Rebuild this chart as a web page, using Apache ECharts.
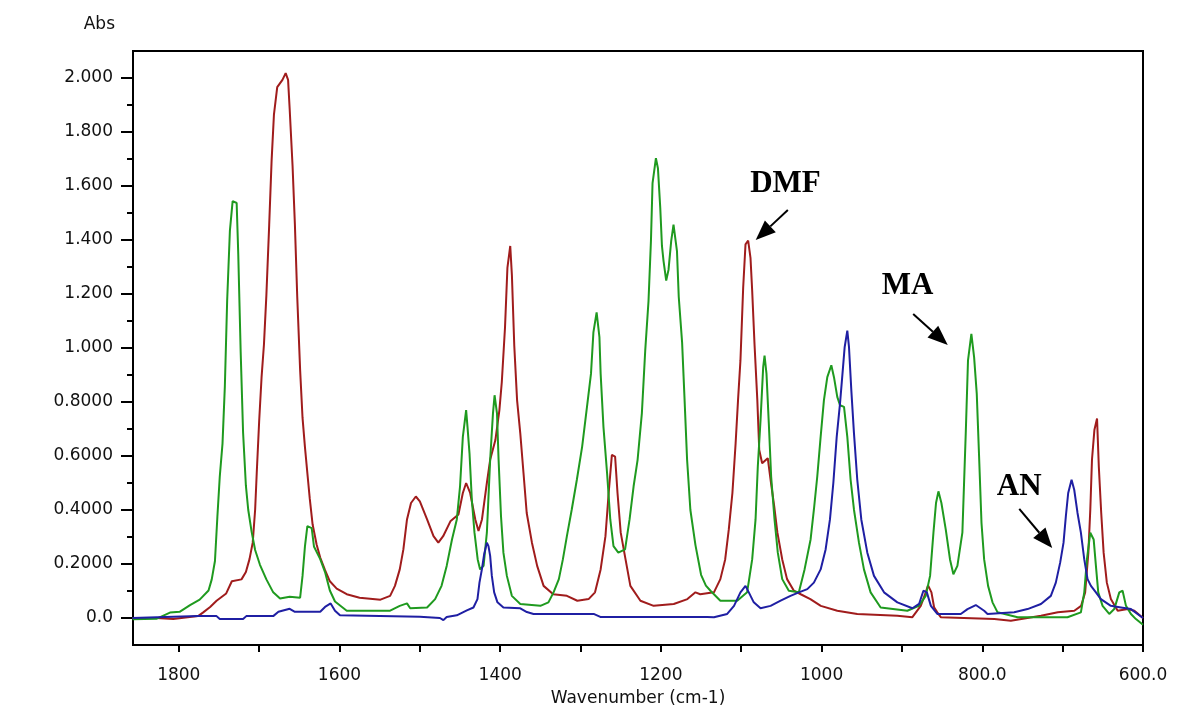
<!DOCTYPE html>
<html>
<head>
<meta charset="utf-8">
<script src="https://cdn.jsdelivr.net/npm/echarts@6/dist/echarts.min.js"></script>
<style>
  html, body { margin: 0; padding: 0; background: #ffffff; }
  #chart { width: 1191px; height: 709px; }
</style>
</head>
<body>
<div id="chart"></div>
<script>
// ---- Data ----
const seriesNames = ['DMF', 'MA', 'AN'];

const dmfWn = [1857.7,1828,1807,1776,1770,1761,1753,1741,1734,1722,1716.5,1712,1708,1705,1703,1700,1697,1694,1691,1687.5,1684.5,1681.6,1677.5,1671,1667,1664,1662,1658.4,1655.5,1652.6,1649,1646,1643,1639.6,1637,1633.5,1628.5,1624,1618,1612,1603.5,1591,1575,1549,1537,1531,1525,1520.5,1516,1511,1505,1500,1491,1483,1477,1471,1462,1452,1446.5,1442.4,1437.4,1431,1427,1422.7,1416.6,1412.5,1406,1401,1398,1394,1391,1387.5,1385.4,1382.5,1379,1375,1371,1367,1360.5,1354,1346,1334,1317,1304,1290,1282,1275,1269,1265,1261,1257,1254,1250,1244,1238,1225.5,1209,1184,1167,1157,1151,1134,1126,1120,1115.5,1111,1107,1104,1101,1097.6,1094.7,1091.4,1088.5,1086.4,1083.5,1080,1077.6,1074,1067,1063.5,1059,1055,1049,1043,1034.5,1026,1014,1001,980.5,955.6,905.7,887,876.6,870.4,867.5,863.3,860,856,851.7,785,764.5,727,706,685.5,677,672,668,665.6,663.5,660.5,657.2,655,652,649,645,640,631.5,619,610.7,600];
const dmfAbs = [0.0,0.0,-0.004,0.007,0.020,0.041,0.064,0.091,0.136,0.143,0.170,0.218,0.279,0.401,0.537,0.728,0.891,1.014,1.196,1.456,1.694,1.864,1.966,1.993,2.018,1.993,1.884,1.673,1.456,1.190,0.918,0.741,0.633,0.524,0.442,0.347,0.272,0.224,0.177,0.136,0.109,0.088,0.075,0.068,0.082,0.119,0.180,0.254,0.365,0.426,0.450,0.432,0.365,0.303,0.279,0.303,0.358,0.383,0.463,0.500,0.463,0.365,0.322,0.365,0.500,0.586,0.659,0.770,0.874,1.077,1.298,1.378,1.267,1.009,0.807,0.684,0.537,0.389,0.279,0.193,0.119,0.088,0.082,0.064,0.070,0.095,0.180,0.303,0.463,0.604,0.598,0.463,0.316,0.217,0.119,0.064,0.045,0.052,0.070,0.095,0.088,0.095,0.144,0.217,0.328,0.463,0.647,0.807,0.954,1.224,1.384,1.398,1.334,1.212,1.015,0.807,0.622,0.573,0.592,0.512,0.414,0.316,0.217,0.144,0.101,0.088,0.070,0.045,0.027,0.015,0.008,0.003,0.045,0.095,0.121,0.095,0.040,0.021,0.003,-0.004,-0.010,0.008,0.021,0.027,0.045,0.095,0.242,0.401,0.586,0.696,0.739,0.561,0.389,0.242,0.131,0.070,0.027,0.033,0.027,0.0];

const maWn = [1857.7,1828,1811,1799,1786,1774,1763,1759,1755,1752,1749,1745.6,1742.7,1739.8,1736.4,1733,1728,1726,1723,1720,1716.5,1713.6,1709.4,1705,1699,1691,1682.5,1674,1662,1649,1646,1643,1640,1634.6,1631.8,1624,1618,1612,1605.6,1591,1537,1525,1516,1512,1491,1481,1473,1466.6,1460,1454,1450,1446.5,1442.4,1440.7,1438.2,1435.3,1432,1428,1425,1420.7,1416.6,1412.5,1409,1407,1404,1402,1399,1396,1391.7,1385.5,1375,1350,1340,1333.6,1327,1322,1317,1311,1304.6,1298,1292,1287,1284,1280,1276.5,1275,1271.5,1267,1263,1259,1253,1244.6,1239,1234,1229,1223.7,1219.5,1215.4,1212.4,1210.4,1206.2,1203.7,1200.8,1198.7,1196.7,1193.4,1190.5,1187.2,1184.3,1180,1177.8,1173.6,1170.7,1167.4,1163.3,1157,1150,1144,1138,1126,1105,1092.7,1086.4,1082.2,1079.4,1076,1072.7,1071,1068.6,1065.7,1062.8,1058.6,1054.5,1049,1040.8,1028.3,1021.2,1013.7,1009.6,1005.4,1001.2,997.1,992.9,987.9,984.6,980.5,977.1,972.1,968,963.9,959.7,953.5,947.3,939,926.5,893.3,879,870.4,865,860.8,857.6,854.6,850.9,845.5,840.2,836,831,824.8,820.6,817.8,813.6,810.2,806.9,804,801,797.7,792.8,787.3,781,756,694,677.3,673.1,669.8,665.6,661.4,658.6,655.7,650.3,642,635.8,629.5,625.4,621.2,615,608.8,600];
const maAbs = [-0.005,-0.003,0.020,0.023,0.048,0.068,0.102,0.143,0.211,0.374,0.524,0.646,0.857,1.177,1.435,1.544,1.537,1.347,0.986,0.687,0.490,0.401,0.320,0.252,0.197,0.143,0.095,0.072,0.079,0.075,0.156,0.265,0.340,0.333,0.265,0.218,0.170,0.102,0.061,0.027,0.027,0.045,0.054,0.036,0.039,0.070,0.119,0.193,0.291,0.365,0.487,0.671,0.770,0.708,0.610,0.438,0.316,0.217,0.180,0.193,0.316,0.586,0.758,0.825,0.758,0.586,0.377,0.242,0.156,0.082,0.052,0.045,0.058,0.095,0.144,0.217,0.303,0.401,0.512,0.635,0.782,0.905,1.058,1.132,1.040,0.905,0.708,0.537,0.365,0.266,0.242,0.254,0.365,0.487,0.586,0.758,0.991,1.175,1.396,1.611,1.703,1.666,1.519,1.378,1.322,1.250,1.290,1.396,1.457,1.359,1.190,1.020,0.820,0.586,0.400,0.270,0.160,0.120,0.100,0.064,0.064,0.095,0.217,0.365,0.561,0.733,0.929,0.972,0.905,0.721,0.524,0.365,0.242,0.144,0.101,0.095,0.180,0.291,0.401,0.524,0.671,0.807,0.892,0.936,0.892,0.819,0.788,0.782,0.671,0.512,0.401,0.279,0.180,0.095,0.039,0.027,0.045,0.082,0.156,0.316,0.426,0.469,0.426,0.328,0.217,0.162,0.193,0.316,0.684,0.954,1.052,0.966,0.831,0.598,0.352,0.217,0.119,0.058,0.021,0.003,0.003,0.021,0.095,0.217,0.316,0.291,0.193,0.095,0.045,0.015,0.033,0.095,0.101,0.045,0.015,-0.004,-0.025];

const anWn = [1857.7,1776,1753,1749,1720,1716,1682.5,1676,1662,1655.5,1624,1618,1611,1605.6,1599.4,1500,1475,1470.7,1466.6,1454,1441.5,1433.3,1428.3,1425.8,1422.8,1420,1416.6,1414.6,1412.5,1410.4,1407.5,1403.4,1396,1375,1366.8,1358.5,1283.7,1275.4,1142.5,1134,1117.5,1109,1101,1094.7,1090.6,1084.4,1076,1063.5,1051,1038.7,1028.3,1017.8,1009.6,1001.2,995,989.6,985.4,981.2,977.1,974,971.3,968,965.9,963,959.7,955.6,950.6,943.1,934.8,922.3,905.7,887,878.7,873.3,869,864,856,826.8,818.4,808.1,797.7,793.5,760.3,743.7,727,714.7,708.5,703.1,698.9,696,693.1,688.9,685.6,681.5,677.3,673.1,669,664.8,658.6,652.4,640,627.5,615,600];
const anAbs = [0.0,0.007,0.007,-0.004,-0.004,0.007,0.007,0.023,0.034,0.023,0.023,0.041,0.054,0.027,0.010,0.005,0.0,-0.008,0.004,0.010,0.028,0.039,0.070,0.131,0.180,0.236,0.279,0.266,0.230,0.156,0.095,0.058,0.039,0.036,0.022,0.015,0.015,0.004,0.004,0.003,0.015,0.045,0.095,0.119,0.095,0.058,0.036,0.045,0.064,0.082,0.095,0.107,0.131,0.180,0.254,0.365,0.500,0.671,0.794,0.905,1.003,1.064,1.003,0.843,0.684,0.512,0.365,0.242,0.156,0.095,0.058,0.036,0.052,0.101,0.095,0.045,0.015,0.015,0.033,0.048,0.027,0.015,0.021,0.033,0.052,0.082,0.131,0.205,0.279,0.377,0.463,0.512,0.475,0.389,0.316,0.217,0.144,0.119,0.095,0.070,0.045,0.039,0.033,0.0];

// axis ticks and labels
const xTickValues = [600,700,800,900,1000,1100,1200,1300,1400,1500,1600,1700,1800];
const xLabelValues = [600,800,1000,1200,1400,1600,1800];
const xLabelTexts = ['600.0','800.0','1000','1200','1400','1600','1800'];
const yMajorValues = [0,0.2,0.4,0.6,0.8,1.0,1.2,1.4,1.6,1.8,2.0];
const yLabelTexts = ['0.0','0.2000','0.4000','0.6000','0.8000','1.000','1.200','1.400','1.600','1.800','2.000'];
const yMinorValues = [0.1,0.3,0.5,0.7,0.9,1.1,1.3,1.5,1.7,1.9];

const colors = ['#a01c1c', '#1f9a1f', '#1f1fa3'];

function pairs(xs, ys) { return xs.map((x, i) => [x, ys[i]]); }
function lookup(vals, texts, v) {
  for (let i = 0; i < vals.length; i++) if (Math.abs(vals[i] - v) < 1e-6) return texts[i];
  return '';
}

const labelFont = { color: '#111', fontFamily: 'DejaVu Sans', fontSize: 17 };

const chart = echarts.init(document.getElementById('chart'), null, { renderer: 'canvas' });
chart.setOption({
  animation: false,
  backgroundColor: '#ffffff',
  grid: { left: 133, right: 48, top: 51, bottom: 64, containLabel: false, outerBoundsMode: 'none', show: true, borderColor: '#000', borderWidth: 2, backgroundColor: 'transparent' },
  xAxis: {
    type: 'value', min: 600, max: 1857, inverse: true, position: 'bottom',
    name: 'Wavenumber (cm-1)', nameLocation: 'middle', nameGap: 45,
    nameTextStyle: labelFont,
    axisLine: { show: true, onZero: false, lineStyle: { color: '#000', width: 2 } },
    axisTick: { show: true, inside: false, length: 7, customValues: xTickValues, lineStyle: { color: '#000', width: 2 } },
    axisLabel: Object.assign({ margin: 22, customValues: xLabelValues, formatter: v => lookup(xLabelValues, xLabelTexts, v) }, labelFont),
    splitLine: { show: false }
  },
  yAxis: [{
    type: 'value', min: -0.1, max: 2.1, position: 'left',
    name: 'Abs', nameLocation: 'end', nameGap: 18,
    nameTextStyle: Object.assign({ align: 'right', padding: [0, 18, 0, 0] }, labelFont),
    axisLine: { show: true, onZero: false, lineStyle: { color: '#000', width: 2 } },
    axisTick: { show: true, length: 12, customValues: yMajorValues, lineStyle: { color: '#000', width: 2 } },
    axisLabel: Object.assign({ margin: 20, customValues: yMajorValues, formatter: v => lookup(yMajorValues, yLabelTexts, v) }, labelFont),
    splitLine: { show: false }
  }, {
    type: 'value', min: -0.1, max: 2.1, position: 'left', offset: 0,
    axisLine: { show: false },
    axisTick: { show: true, length: 6, customValues: yMinorValues, lineStyle: { color: '#000', width: 2 } },
    axisLabel: { show: false },
    splitLine: { show: false }
  }],
  series: [
    { name: seriesNames[0], type: 'line', data: pairs(dmfWn, dmfAbs), showSymbol: false, clip: true, lineStyle: { color: colors[0], width: 2 }, itemStyle: { color: colors[0] }, z: 2 },
    { name: seriesNames[1], type: 'line', data: pairs(maWn, maAbs), showSymbol: false, clip: true, lineStyle: { color: colors[1], width: 2 }, itemStyle: { color: colors[1] }, z: 3 },
    { name: seriesNames[2], type: 'line', data: pairs(anWn, anAbs), showSymbol: false, clip: true, lineStyle: { color: colors[2], width: 2 }, itemStyle: { color: colors[2] }, z: 4 }
  ]
});

// ---- Annotations (label + arrow), anchored in data coordinates ----
const annotations = [
  { text: 'DMF', at: [1045, 1.607], tail: [1042, 1.511], tip: [1082, 1.400] },
  { text: 'MA',  at: [893, 1.230],  tail: [886, 1.126],  tip: [843, 1.011] },
  { text: 'AN',  at: [754, 0.485],  tail: [754, 0.404],  tip: [713, 0.259] }
];
const graphics = [];
annotations.forEach(a => {
  const p = chart.convertToPixel({ xAxisIndex: 0, yAxisIndex: 0 }, a.at);
  const t = chart.convertToPixel({ xAxisIndex: 0, yAxisIndex: 0 }, a.tail);
  const h = chart.convertToPixel({ xAxisIndex: 0, yAxisIndex: 0 }, a.tip);
  const dx = h[0] - t[0], dy = h[1] - t[1];
  const len = Math.sqrt(dx * dx + dy * dy);
  const ux = dx / len, uy = dy / len, nx = -uy, ny = ux;
  const L = 20, W = 8;
  const bx = h[0] - ux * L, by = h[1] - uy * L;
  graphics.push({
    type: 'text', x: p[0], y: p[1], z: 10,
    style: { text: a.text, fill: '#000', font: 'bold 31px "Liberation Serif", "Times New Roman", serif', align: 'center', verticalAlign: 'middle' }
  });
  graphics.push({
    type: 'line', z: 10,
    shape: { x1: t[0], y1: t[1], x2: bx, y2: by },
    style: { stroke: '#000', lineWidth: 2 }
  });
  graphics.push({
    type: 'polygon', z: 10,
    shape: { points: [[h[0], h[1]], [bx + nx * W, by + ny * W], [bx - nx * W, by - ny * W]] },
    style: { fill: '#000' }
  });
});
chart.setOption({ graphic: graphics });
</script>
</body>
</html>
